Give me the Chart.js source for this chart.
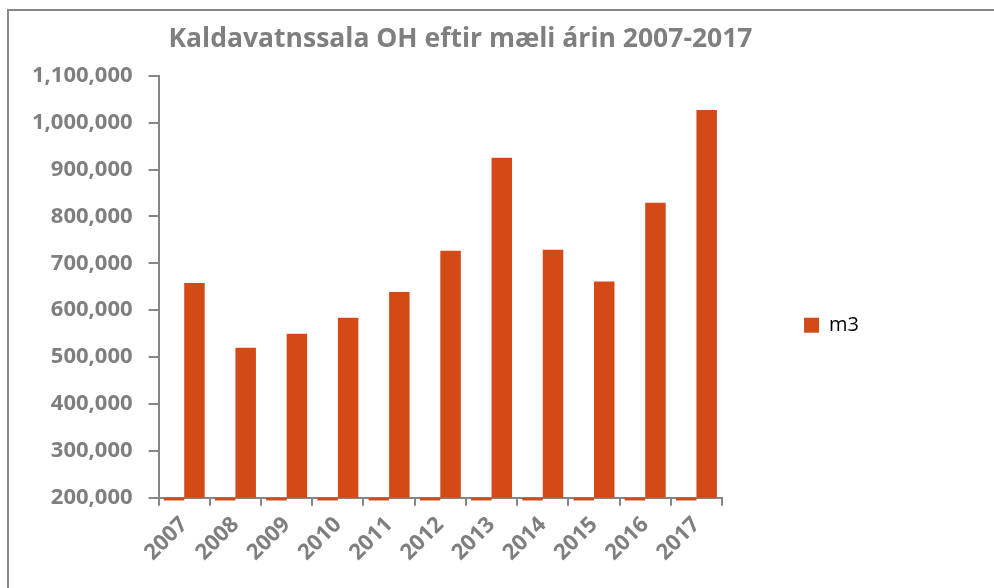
<!DOCTYPE html>
<html>
<head>
<meta charset="utf-8">
<script src="https://cdn.jsdelivr.net/npm/chart.js@4/dist/chart.umd.min.js"></script>
<style>
  html, body { margin: 0; padding: 0; background: #fff; overflow: hidden; }
  #wrap { position: relative; width: 994px; height: 588px; }
  #frame { position: absolute; left: 7px; top: 9px; width: 1100px; height: 700px; border: 2px solid #868686; }
  #wrap canvas { position: absolute; left: 0; top: 0; }
</style>
</head>
<body>
<div id="wrap">
  <div id="frame"></div>
  <canvas id="chart" width="994" height="588"></canvas>
</div>
<script>
// data
const years = ['2007', '2008', '2009', '2010', '2011', '2012', '2013', '2014', '2015', '2016', '2017'];
const m3 = [658000, 520000, 550000, 584000, 639000, 727000, 925000, 729000, 661000, 829000, 1027000];
// second (unlabelled) series sits below the axis minimum, only a stub shows
const stubBase = 200000;
const stubEnd = 194000;
const yMin = 200000;
const yMax = 1100000;
const yStep = 100000;

const grey = '#7f7f7f';
const orange = '#d34a17';
const font = "'Open Sans', sans-serif";

// move the title a little right, Excel centres it over the plot+legend
const titleShift = {
    id: 'titleShift',
    afterLayout(chart) {
        const t = chart.titleBlock;
        if (t) { t.left += 18; t.right += 18; }
    }
};

new Chart(document.getElementById('chart'), {
    type: 'bar',
    data: {
        labels: years,
        datasets: [
            {
                label: 'year',
                data: years.map(() => [stubBase, stubEnd]),
                backgroundColor: orange,
                clip: 8,
            },
            {
                label: 'm3',
                data: m3,
                backgroundColor: orange,
            }
        ]
    },
    options: {
        responsive: false,
        animation: false,
        categoryPercentage: 0.8,
        barPercentage: 1.0,
        layout: { padding: { left: 16, right: 125, top: 0, bottom: 16 } },
        plugins: {
            title: {
                display: true,
                text: 'Kaldavatnssala OH eftir mæli árin 2007-2017',
                color: grey,
                font: { family: font, size: 26.5, weight: 'bold' },
                padding: { top: 24, bottom: 20 }
            },
            legend: {
                position: 'right',
                title: { display: true, text: ' ', font: { size: 2 }, padding: { top: 0, bottom: 76 } },
                labels: {
                    filter: item => item.text === 'm3',
                    color: '#000',
                    boxWidth: 15,
                    boxHeight: 15,
                    padding: 82,
                    font: { family: font, size: 20 }
                }
            },
            tooltip: { enabled: false }
        },
        scales: {
            y: {
                min: yMin,
                max: yMax,
                ticks: {
                    stepSize: yStep,
                    color: grey,
                    padding: 16,
                    font: { family: font, size: 22, weight: 'bold' },
                    callback: v => v.toLocaleString('en-US')
                },
                grid: { drawOnChartArea: false, drawTicks: true, tickLength: 10, color: '#868686', lineWidth: 2 },
                border: { color: '#868686', width: 2 }
            },
            x: {
                ticks: {
                    color: grey,
                    minRotation: 45,
                    maxRotation: 45,
                    padding: 6,
                    font: { family: font, size: 22, weight: 'bold' }
                },
                grid: { offset: true, drawOnChartArea: false, drawTicks: true, tickLength: 8, color: '#868686', lineWidth: 2 },
                border: { color: '#868686', width: 2 }
            }
        }
    },
    plugins: [titleShift]
});
</script>
</body>
</html>
